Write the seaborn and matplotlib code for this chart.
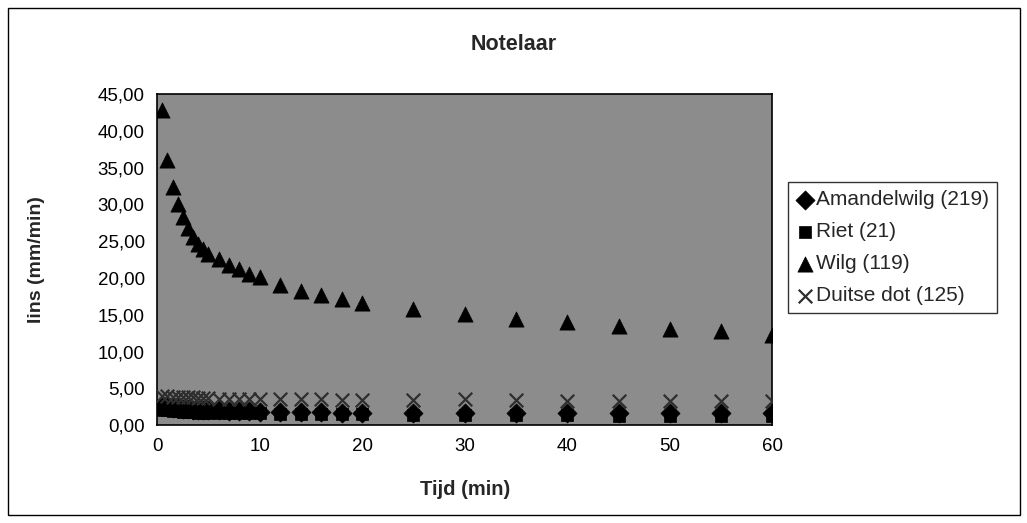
import pandas as pd
import numpy as np
import matplotlib
matplotlib.use("Agg")
import matplotlib.pyplot as plt
import seaborn as sns
from matplotlib.patches import Rectangle
from matplotlib.ticker import FuncFormatter

# time points (min)
tijd = [0.5, 1, 1.5, 2, 2.5, 3, 3.5, 4, 4.5, 5, 6, 7, 8, 9, 10,
        12, 14, 16, 18, 20, 25, 30, 35, 40, 45, 50, 55, 60]

# infiltration rate (mm/min) per species
amandelwilg = [2.6, 2.5, 2.4, 2.3, 2.2, 2.2, 2.1, 2.1, 2.0, 2.0, 2.0, 1.9, 1.9, 1.9, 1.8,
               1.8, 1.8, 1.8, 1.7, 1.7, 1.7, 1.7, 1.6, 1.6, 1.6, 1.6, 1.6, 1.6]
riet = [2.1, 2.0, 1.9, 1.9, 1.8, 1.8, 1.8, 1.7, 1.7, 1.7, 1.7, 1.6, 1.6, 1.6, 1.6,
        1.5, 1.5, 1.5, 1.5, 1.5, 1.4, 1.4, 1.4, 1.4, 1.3, 1.3, 1.3, 1.3]
wilg = [42.8, 36.0, 32.4, 30.0, 28.3, 26.8, 25.6, 24.6, 23.9, 23.3, 22.6, 21.8, 21.2, 20.6, 20.1,
        19.0, 18.3, 17.7, 17.1, 16.6, 15.8, 15.1, 14.5, 14.0, 13.5, 13.1, 12.8, 12.3]
duitse_dot = [4.0, 4.0, 3.9, 3.9, 3.8, 3.8, 3.8, 3.7, 3.7, 3.7, 3.6, 3.6, 3.6, 3.5, 3.5,
              3.5, 3.5, 3.5, 3.4, 3.4, 3.4, 3.5, 3.4, 3.3, 3.3, 3.3, 3.3, 3.3]

series = {"Amandelwilg (219)": amandelwilg,
          "Riet (21)": riet,
          "Wilg (119)": wilg,
          "Duitse dot (125)": duitse_dot}

rows = []
for name, vals in series.items():
    for t, v in zip(tijd, vals):
        rows.append({"Tijd": t, "Iins": v, "soort": name})
df = pd.DataFrame(rows)

sns.set_style("white")
plt.rcParams['font.family'] = ['Liberation Sans', 'DejaVu Sans']

fig = plt.figure(figsize=(10.27, 5.23), dpi=100)
ax = fig.add_axes([0.153, 0.187, 0.599, 0.633])
ax.set_facecolor('#8c8c8c')

markers = {"Amandelwilg (219)": "D", "Riet (21)": "s", "Wilg (119)": "^"}
sizes = {"Amandelwilg (219)": 95, "Riet (21)": 85, "Wilg (119)": 120}

for name in series:
    sub = df[df["soort"] == name]
    if name == "Duitse dot (125)":
        ax.scatter(sub["Tijd"], sub["Iins"], marker="x", s=95, color="#2e2e2e",
                   linewidths=1.6, label=name, zorder=3)
    else:
        sns.scatterplot(data=sub, x="Tijd", y="Iins", marker=markers[name],
                        s=sizes[name], color="black", edgecolor="black",
                        linewidth=0.5, label=name, ax=ax, zorder=3)

ax.set_xlim(0, 60)
ax.set_ylim(0, 45)
ax.set_xticks(range(0, 61, 10))
ax.set_yticks(range(0, 46, 5))
ax.yaxis.set_major_formatter(FuncFormatter(lambda v, p: f"{v:.2f}".replace(".", ",")))
ax.tick_params(axis='both', direction='out', length=5, width=1, labelsize=13.5,
               colors='black', pad=4)
for s in ax.spines.values():
    s.set_color('black')
    s.set_linewidth(1.2)

ax.set_xlabel("Tijd (min)", fontsize=14.5, fontweight='bold', labelpad=18)
ax.set_ylabel("Iins (mm/min)", fontsize=14, fontweight='bold', labelpad=38)
fig.text(0.5, 0.915, "Notelaar", ha='center', va='center', fontsize=15.5, fontweight='bold')

leg = ax.legend(loc='upper left', bbox_to_anchor=(0.767, 0.652), bbox_transform=fig.transFigure,
                frameon=True, fancybox=False, edgecolor='black', fontsize=15,
                handletextpad=0.05, handlelength=0.9, borderpad=0.4, labelspacing=0.62,
                borderaxespad=0, markerscale=1.0)
leg.get_frame().set_linewidth(1.0)

# outer chart border
fig.patches.append(Rectangle((0.008, 0.015), 0.985, 0.97, transform=fig.transFigure,
                             fill=False, edgecolor='black', linewidth=1.0))

fig.savefig("out.png", dpi=100, facecolor='white')
